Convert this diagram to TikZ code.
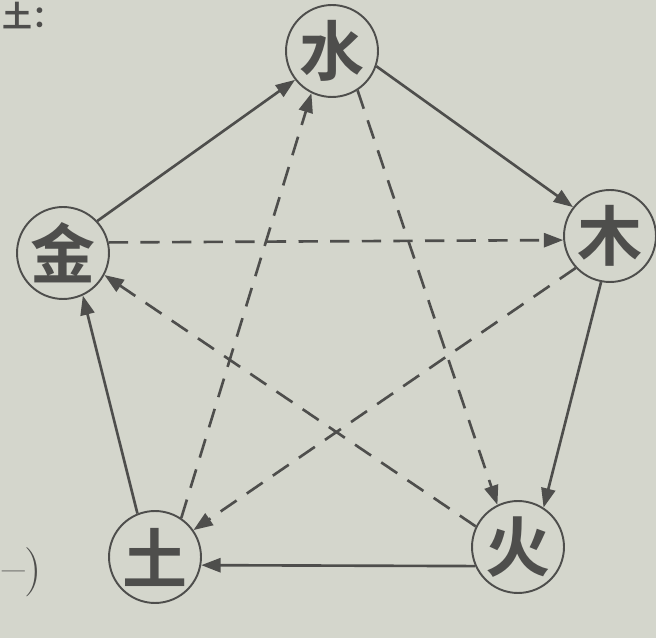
\documentclass[tikz,border=0pt]{standalone}
\usepackage{fontspec}
\newfontfamily\cjk{Noto Sans CJK SC Bold}
\usetikzlibrary{arrows.meta}
\definecolor{paper}{RGB}{212,214,204}
\definecolor{ink}{RGB}{78,78,76}
\begin{document}
\begin{tikzpicture}[x=0.02cm,y=-0.02cm,>={Triangle[length=11pt,width=8pt]}]
\tikzset{
  element/.style={draw=ink,line width=1.1pt,shape=circle,minimum size=1.84cm,inner sep=0pt,text=ink,font=\cjk\fontsize{37}{37}\selectfont},
  sheng/.style={->,draw=ink,line width=1.5pt},
  ke/.style={->,draw=ink,line width=1.5pt,dash pattern=on 11pt off 7pt}
}
\fill[paper] (0,0) rectangle (656,638);
\useasboundingbox (0,0) rectangle (656,638);
\node[element] (shui) at (332,51) {水};
\node[element] (mu) at (610,236) {木};
\node[element] (huo) at (518,547) {火};
\node[element] (tu) at (155,557) {土};
\node[element] (jin) at (63,253) {金};
\node[anchor=north west,inner sep=0pt,text=ink,font=\cjk\fontsize{17}{17}\selectfont] (head) at (2,2) {土：};
\node[anchor=west,inner sep=0pt,text=ink,font=\fontsize{28}{28}\selectfont] (tail) at (2,572) {--)};
% sheng cycle
\draw[sheng] (jin.43) -- (shui.218);
\draw[sheng] (shui.-19) -- (mu.142);
\draw[sheng] (mu.259) -- (huo.57);
\draw[sheng] (huo.204) -- (tu.-10);
\draw[sheng] (tu.112) -- (jin.-65);
% ke cycle
\draw[ke] (jin.13) -- (mu.185);
\draw[ke] (shui.-57) -- (huo.116);
\draw[ke] (mu.223) -- (tu.35);
\draw[ke] (huo.154) -- (jin.-28);
\draw[ke] (tu.56) -- (shui.244);
\end{tikzpicture}
\end{document}
